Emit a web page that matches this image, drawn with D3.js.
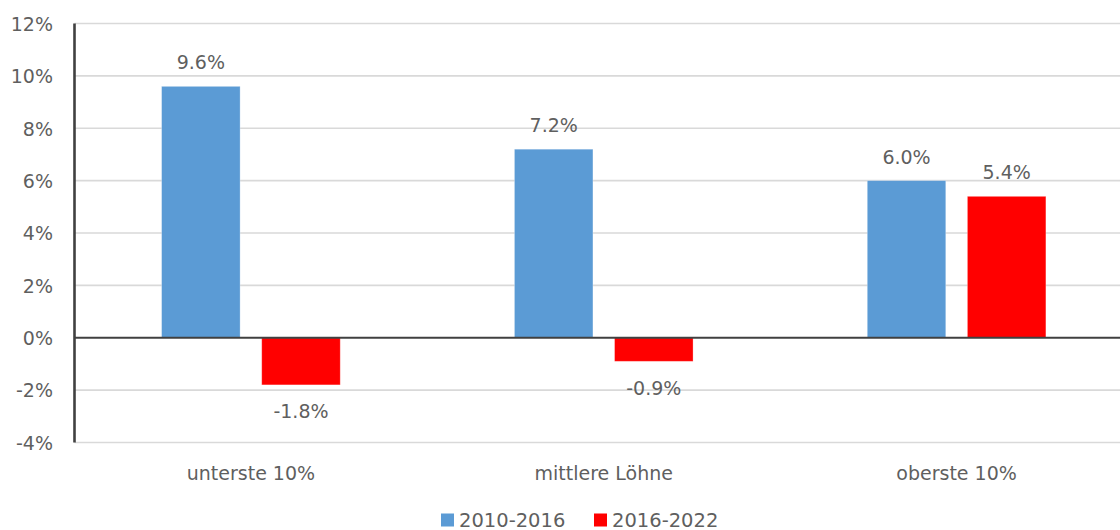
<!DOCTYPE html>
<html>
<head>
<meta charset="utf-8">
<script src="https://cdn.jsdelivr.net/npm/d3@7"></script>
<style>
html,body{margin:0;padding:0;background:#fff;}
svg{display:block;}
text{font-family:"DejaVu Sans",sans-serif;fill:#5f5f5f;}
</style>
</head>
<body>
<svg id="chart" width="1120" height="530"></svg>
<script>
const categories = ["unterste 10%", "mittlere Löhne", "oberste 10%"];
const seriesNames = ["2010-2016", "2016-2022"];
const values2010_2016 = [9.6, 7.2, 6.0];
const values2016_2022 = [-1.8, -0.9, 5.4];
const yTicks = [-4, -2, 0, 2, 4, 6, 8, 10, 12];
const colors = ["#5B9BD5", "#FF0000"];

const seriesValues = [values2010_2016, values2016_2022];
const svg = d3.select("#chart");

const plotLeft = 74.5, plotRightEdge = 1133, gridRight = 1120;
const x0 = d3.scaleBand().domain(categories).range([plotLeft, plotRightEdge]).padding(0);
const x1 = d3.scaleBand().domain(seriesNames).range([0, x0.bandwidth()])
  .paddingInner(0.216).paddingOuter(0.87);
const y = d3.scaleLinear().domain([-4, 12]).range([442.5, 23.5]);

// gridlines
svg.append("g").selectAll("line").data(yTicks.filter(d => d !== 0)).join("line")
  .attr("x1", plotLeft).attr("x2", gridRight)
  .attr("y1", d => y(d)).attr("y2", d => y(d))
  .attr("stroke", "#d9d9d9").attr("stroke-width", 1.6);

// y tick labels via axis
const yAxis = d3.axisLeft(y).tickValues(yTicks).tickFormat(d => d + "%").tickSize(0).tickPadding(0);
const ga = svg.append("g").attr("transform", "translate(53,0)").call(yAxis);
ga.select(".domain").remove();
ga.selectAll("text").attr("font-size", 19).attr("font-family", "DejaVu Sans").attr("fill", "#5f5f5f")
  .attr("dy", "0.36em");

// bars
const rows = [];
categories.forEach((c, i) => seriesNames.forEach((s, j) => rows.push({c, s, v: seriesValues[j][i], j})));

svg.append("g").selectAll("rect").data(rows).join("rect")
  .attr("x", d => x0(d.c) + x1(d.s))
  .attr("width", x1.bandwidth())
  .attr("y", d => y(Math.max(0, d.v)))
  .attr("height", d => Math.abs(y(d.v) - y(0)))
  .attr("fill", d => colors[d.j])
  .attr("stroke", "#ffffff").attr("stroke-opacity", 0.35).attr("stroke-width", 0.8);

// zero line
svg.append("line").attr("x1", plotLeft).attr("x2", gridRight)
  .attr("y1", y(0)).attr("y2", y(0)).attr("stroke", "#404040").attr("stroke-width", 2.2);
// y axis line
svg.append("line").attr("x1", plotLeft).attr("x2", plotLeft)
  .attr("y1", y(12)).attr("y2", y(-4)).attr("stroke", "#404040").attr("stroke-width", 2.6);

// data labels
svg.append("g").selectAll("text").data(rows).join("text")
  .attr("x", d => x0(d.c) + x1(d.s) + x1.bandwidth() / 2)
  .attr("y", d => d.v >= 0 ? y(d.v) - 17 : y(d.v) + 33.5)
  .attr("text-anchor", "middle").attr("font-size", 19)
  .text(d => d.v.toFixed(1) + "%");

// category labels
const xAxis = d3.axisBottom(x0).tickSize(0).tickPadding(0);
const gx = svg.append("g").attr("transform", "translate(0,480)").call(xAxis);
gx.select(".domain").remove();
gx.selectAll("text").attr("font-size", 19).attr("font-family", "DejaVu Sans").attr("fill", "#5f5f5f")
  .attr("dy", 0).attr("y", 0);

// legend
const legendX = [441, 594];
const lg = svg.append("g").selectAll("g").data(seriesNames).join("g")
  .attr("transform", (d, i) => `translate(${legendX[i]},0)`);
lg.append("rect").attr("x", 0).attr("y", 513.5).attr("width", 13).attr("height", 13)
  .attr("fill", (d, i) => colors[i]);
lg.append("text").attr("x", 18).attr("y", 526.5).attr("font-size", 19.5).text(d => d);
</script>
</body>
</html>
